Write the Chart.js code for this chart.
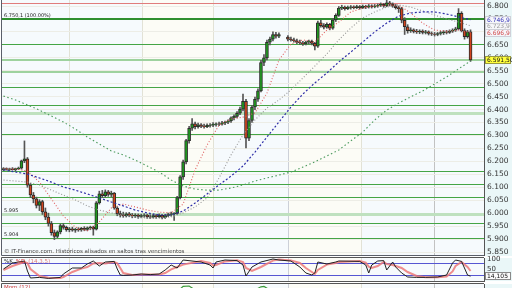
<!DOCTYPE html>
<html>
<head>
<meta charset="utf-8">
<title>Futuro - IT-Finance</title>
<script src="https://cdn.jsdelivr.net/npm/chart.js@4.4.1/dist/chart.umd.min.js"></script>
<style>
  html, body { margin: 0; padding: 0; width: 512px; height: 288px; overflow: hidden; background: #fff; }
  canvas { position: absolute; left: 0; }
</style>
</head>
<body>
<canvas id="main" width="512" height="256" style="top:0"></canvas>
<canvas id="stoch" width="512" height="28" style="top:254px"></canvas>
<canvas id="mom" width="512" height="30" style="top:282px"></canvas>
<script>
// daily candles, index 0..156 (93-94 = rollover gap)
const opens = [6168,6172,6169,6171,6168,6172,6174,6202,6210,6108,
  6070,6055,6030,6045,6005,5985,5960,5925,5910,5928,
  5952,5945,5936,5940,5934,5938,5935,5941,5937,5943,
  5946,5938,6040,6075,6068,6082,6072,6078,6020,5998,
  5994,5990,5997,5992,5989,5993,5987,5991,5993,5986,
  5985,5991,5986,5992,5984,5991,5995,5997,5999,6060,
  6140,6198,6280,6328,6345,6334,6341,6336,6334,6339,
  6340,6343,6345,6344,6349,6351,6356,6368,6374,6386,
  6402,6432,6290,6358,6410,6440,6472,6582,6600,6660,
  6672,6690,6684,null,null,6680,6672,6669,6666,6660,
  6657,6654,6661,6664,6656,6645,6735,6724,6718,6729,
  6714,6746,6764,6792,6795,6790,6795,6797,6794,6798,
  6794,6799,6796,6801,6797,6800,6803,6806,6800,6812,
  6807,6800,6794,6790,6745,6720,6705,6708,6702,6700,
  6703,6698,6700,6694,6692,6690,6694,6697,6700,6698,
  6703,6707,6712,6772,6705,6682,6700];
const highs = [6176,6175,6174,6176,6174,6178,6205,6279,6215,6115,
  6080,6062,6052,6050,6020,6000,5968,5935,5932,5958,
  5960,5950,5945,5946,5942,5944,5945,5948,5947,5950,
  5950,6045,6085,6088,6090,6088,6085,6080,6025,6008,
  6004,6002,6003,5999,5998,5997,5996,5998,5996,5994,
  5996,5995,5997,5995,5996,6000,6004,6002,6065,6145,
  6205,6285,6335,6365,6352,6348,6346,6344,6345,6346,
  6350,6349,6352,6355,6356,6360,6372,6380,6392,6410,
  6460,6440,6365,6415,6448,6480,6590,6612,6668,6680,
  6700,6698,6696,null,null,6686,6680,6676,6672,6668,
  6664,6665,6668,6668,6660,6742,6745,6732,6735,6733,
  6752,6770,6798,6803,6800,6800,6802,6801,6803,6802,
  6804,6803,6806,6805,6806,6808,6812,6810,6822,6818,
  6812,6806,6800,6795,6755,6728,6716,6712,6710,6708,
  6708,6706,6704,6700,6698,6698,6702,6705,6706,6708,
  6712,6718,6790,6778,6712,6706,6708];
const lows = [6164,6166,6164,6166,6163,6168,6170,6195,6100,6060,
  6040,6020,6010,5995,5975,5950,5915,5898,5905,5920,
  5938,5930,5928,5930,5926,5930,5930,5932,5932,5936,
  5915,5935,6035,6060,6062,6065,6064,6015,5990,5985,
  5984,5985,5986,5982,5983,5980,5982,5984,5980,5979,
  5981,5980,5982,5978,5980,5986,5988,5972,5995,6055,
  6130,6190,6270,6320,6325,6328,6330,6328,6330,6332,
  6334,6336,6338,6340,6342,6346,6350,6360,6368,6380,
  6395,6252,6280,6350,6400,6432,6468,6570,6592,6650,
  6665,6676,6678,null,null,6665,6664,6660,6655,6652,
  6648,6650,6654,6650,6630,6640,6718,6712,6714,6708,
  6710,6740,6760,6786,6784,6786,6788,6789,6790,6788,
  6790,6790,6792,6792,6793,6795,6798,6795,6797,6800,
  6795,6788,6775,6735,6690,6695,6698,6696,6694,6693,
  6692,6692,6688,6686,6684,6685,6688,6690,6692,6694,
  6698,6702,6708,6700,6672,6676,6586];
const closes = [6172,6169,6171,6168,6172,6174,6202,6210,6108,6070,
  6055,6030,6045,6005,5985,5960,5925,5910,5928,5952,
  5945,5936,5940,5934,5938,5935,5941,5937,5943,5946,
  5938,6040,6075,6068,6082,6072,6078,6020,5998,5994,
  5990,5997,5992,5989,5993,5987,5991,5993,5986,5985,
  5991,5986,5992,5984,5991,5995,5997,5999,6060,6140,
  6198,6280,6328,6345,6334,6341,6336,6334,6339,6340,
  6343,6345,6344,6349,6351,6356,6368,6374,6386,6402,
  6432,6290,6358,6410,6440,6472,6582,6600,6660,6672,
  6690,6684,6690,null,null,6672,6669,6666,6660,6657,
  6654,6661,6664,6656,6645,6735,6724,6718,6729,6714,
  6746,6764,6792,6795,6790,6795,6797,6794,6798,6794,
  6799,6796,6801,6797,6800,6803,6806,6800,6812,6807,
  6800,6794,6790,6745,6720,6705,6708,6702,6700,6703,
  6698,6700,6694,6692,6690,6694,6697,6700,6698,6703,
  6707,6712,6772,6705,6682,6700,6591.5];

// moving averages, read every 4 candles
const maIdx = [0,4,8,12,16,20,24,28,32,36,40,44,48,52,56,60,64,68,72,76,
  80,84,88,92,96,100,104,108,112,116,120,124,128,132,136,140,144,148,152,156];
const maRed = [6171,6171,6163,6120,6055,5989,5946,5931,5966,6020,6035,6024,6012,6004,6001,6035,6167,6263,6340,6364,
  6371,6387,6464,6591,6653,6669,6661,6707,6738,6777,6792,6800,6804,6804,6773,6734,6707,6703,6707,6696.9];
const maGray = [6128,6124,6120,6109,6089,6070,6051,6028,6012,6001,5993,5985,5981,5981,5985,6001,6024,6059,6136,6225,
  6302,6360,6406,6437,6476,6522,6568,6615,6669,6715,6754,6777,6796,6804,6796,6781,6765,6750,6738,6723.9];
const maBlue = [6167,6159,6151,6136,6120,6101,6089,6074,6059,6043,6028,6012,6001,5993,5993,6008,6039,6074,6109,6143,
  6182,6236,6294,6352,6410,6460,6503,6541,6584,6622,6661,6700,6734,6761,6773,6777,6777,6769,6758,6746.9];
const maGreen = [6452,6437,6418,6398,6375,6352,6325,6294,6267,6240,6225,6205,6182,6159,6128,6105,6093,6089,6089,6097,
  6109,6124,6136,6147,6159,6178,6198,6221,6244,6279,6313,6360,6398,6425,6449,6472,6499,6526,6557,6588];

// support / fibo levels
const levels = [6750.1,6652,6593,6546,6486,6419,6388,6305,6164,6111,6061,5995,5961,5904];
const levelKind = ['d','m','l','l','m','m','L','m','m','m','m','L','m','m'];
const topLevels = [6811];
const levelTextValues = [6750.1, 5995, 5904];
const levelTexts = ['6.750,1 (100.00%)', '5.995', '5.904'];

const priceTicks = [5850,5900,5950,6000,6050,6100,6150,6200,6250,6300,6350,6400,6450,6500,6550,6600,6650,6700,6750,6800];
const gridX = [22.2,46.5,70.2,95.2,119.5,143.8];

// stochastic (14,3,5)
const stochIdx = [0,3,7,8,9,12,15,19,20,23,26,28,30,32,34,37,38,39,40,43,46,49,52,54,56,58,60,66,69,70,71,74,78,80,81,
  83,86,90,92,96,99,101,103,104,105,108,111,112,119,121,122,123,125,127,128,130,131,133,135,138,141,145,148,150,151,153,155,156];
const stochK = [50,80,90,40,5,8,3,8,25,55,55,75,90,65,85,88,50,20,18,20,25,22,25,45,70,55,95,85,70,55,85,95,92,70,15,
  60,85,100,95,90,60,30,20,30,85,75,85,90,88,70,30,70,90,92,45,85,60,30,10,8,8,10,20,80,95,88,20,14.105];
const stochD = [45,65,85,80,50,15,6,5,10,35,52,60,78,80,78,85,78,55,30,20,22,23,23,30,48,60,72,90,80,68,70,88,94,85,55,
  40,60,92,97,93,80,55,35,25,45,72,80,85,90,82,62,55,65,85,75,70,65,55,35,15,9,9,12,38,65,85,60,40];
const stochLevels = [80, 20];
const stochTicks = [100, 50];

// momentum (12)
const momIdx = [0,20,40,55,58,60,62,63,66,80,84,86,87,89,100,120,140,156];
const momVal = [-100,-150,-50,0,100,240,250,200,50,100,150,230,240,150,50,80,-50,-200];

Chart.defaults.font.family = "'DejaVu Sans', sans-serif";
Chart.defaults.animation = false;

const axisTint = '#eaf7f8';
const bandTint = ['#f6fafd','#f6fafd','#fcfcf6','#f6fafd','#fcfcf6','#f6fafd','#f6fafd'];
const gridTone = ['#e2e2d6','#e2e2d6','#e2e2d6','#ccd0d8','#e2e2d6','#c2c2c2'];
const levelStyle = {
  d: {c: '#2f8f2f', w: 2},
  m: {c: '#45a545', w: 1},
  l: {c: '#9ed29e', w: 2},
  L: {c: '#bfe1bf', w: 3}
};

function fmtES(v, d) {
  const s = v.toFixed(d).split('.');
  const int = s[0].replace(/\B(?=(\d{3})+(?!\d))/g, '.');
  return s.length > 1 ? int + ',' + s[1] : int;
}

function noPad(s) {
  s.paddingTop = 0;
  s.paddingBottom = 0;
}

function xScale() {
  return {
    type: 'linear', min: -0.5, max: 160.5, offset: false,
    afterBuildTicks: a => { a.ticks = gridX.map(v => ({value: v})); },
    afterFit: s => { s.height = 0; s.paddingLeft = 0; s.paddingRight = 0; },
    ticks: {display: false},
    grid: {offset: false, drawTicks: false, color: c => gridTone[c.index] || '#ddd'},
    border: {display: false}
  };
}

function paintBands(chart) {
  const {ctx, chartArea: a, width} = chart;
  const xs = chart.scales.x;
  const edges = [a.left].concat(gridX.map(v => xs.getPixelForValue(v)), [a.right]);
  for (let k = 0; k < edges.length - 1; k++) {
    ctx.fillStyle = bandTint[k];
    ctx.fillRect(edges[k], a.top, edges[k + 1] - edges[k], a.bottom - a.top);
  }
  ctx.fillStyle = axisTint;
  ctx.fillRect(a.right, a.top, width - a.right, a.bottom - a.top);
}

function hLine(ctx, a, y, color, w) {
  const yy = w % 2 ? Math.round(y) + 0.5 : Math.round(y);
  ctx.strokeStyle = color;
  ctx.lineWidth = w;
  ctx.beginPath();
  ctx.moveTo(a.left, yy);
  ctx.lineTo(a.right, yy);
  ctx.stroke();
}

function tag(ctx, a, width, y, text, fg, bg, line) {
  const h = 8;
  ctx.fillStyle = bg;
  ctx.fillRect(a.right + 1, Math.round(y - h / 2), width - a.right - 2, h);
  ctx.strokeStyle = line;
  ctx.lineWidth = 1;
  ctx.strokeRect(a.right + 1.5, Math.round(y - h / 2) + 0.5, width - a.right - 3, h - 1);
  ctx.fillStyle = fg;
  ctx.font = "6px 'DejaVu Sans'";
  ctx.textBaseline = 'middle';
  ctx.textAlign = 'left';
  ctx.fillText(text, a.right + 3, y + 0.5);
}

const mainDeco = {
  id: 'mainDeco',
  beforeDraw(chart) {
    const {ctx, chartArea: a, width, height} = chart;
    ctx.save();
    ctx.fillStyle = '#fff';
    ctx.fillRect(0, 0, width, height);
    paintBands(chart);
    ctx.fillStyle = axisTint;
    ctx.fillRect(a.right, 0, width - a.right, height);
    ctx.restore();
  },
  beforeDatasetsDraw(chart) {
    const {ctx, chartArea: a} = chart;
    const ys = chart.scales.y;
    ctx.save();
    levels.forEach((v, k) => {
      const st = levelStyle[levelKind[k]];
      hLine(ctx, a, ys.getPixelForValue(v), st.c, st.w);
    });
    topLevels.forEach(v => hLine(ctx, a, ys.getPixelForValue(v), '#e07c7c', 1));
    ctx.fillStyle = '#222';
    ctx.font = "5px 'DejaVu Sans'";
    ctx.textBaseline = 'alphabetic';
    levelTextValues.forEach((v, k) => {
      ctx.fillText(levelTexts[k], a.left + 2, ys.getPixelForValue(v) - 2);
    });
    ctx.restore();
  },
  afterDraw(chart) {
    const {ctx, chartArea: a, width} = chart;
    const ys = chart.scales.y;
    ctx.save();
    ctx.strokeStyle = '#5a5f6a';
    ctx.lineWidth = 1;
    ctx.beginPath();
    ctx.moveTo(a.left - 0.5, a.top);
    ctx.lineTo(a.left - 0.5, a.bottom - 0.5);
    ctx.lineTo(a.right, a.bottom - 0.5);
    ctx.stroke();
    ctx.fillStyle = '#444';
    ctx.font = "5.5px 'DejaVu Sans'";
    ctx.textBaseline = 'alphabetic';
    ctx.fillText('© IT-Finance.com. Históricos alisados en saltos tras vencimientos', a.left + 2, a.bottom - 3);
    const gv = maGray[maGray.length - 1], bv = maBlue[maBlue.length - 1], rv = maRed[maRed.length - 1];
    const cv = closes[closes.length - 1];
    tag(ctx, a, width, ys.getPixelForValue(gv), fmtES(gv, 1), '#9a9a9a', '#f6f6fa', '#cfd0d8');
    tag(ctx, a, width, ys.getPixelForValue(bv), fmtES(bv, 1), '#3434b8', '#f6f6fa', '#cfd0d8');
    tag(ctx, a, width, ys.getPixelForValue(rv), fmtES(rv, 1), '#d04a4a', '#f6f6fa', '#cfd0d8');
    tag(ctx, a, width, ys.getPixelForValue(cv), fmtES(cv, 2), '#111', '#ffff3c', '#9a9a40');
    ctx.restore();
  }
};

const candleIdx = closes.map((c, i) => i).filter(i => closes[i] !== null);
const maLine = (vals, color, dash, w) => ({
  type: 'line',
  data: maIdx.map((x, k) => ({x: x, y: vals[k]})),
  borderColor: color, borderDash: dash, borderWidth: w,
  pointRadius: 0, fill: false, order: 0
});

new Chart(document.getElementById('main'), {
  type: 'line',
  data: {
    datasets: [
      maLine(maGreen, '#4a9a5c', [1.5, 2.5], 1.1),
      maLine(maBlue, '#2e2ea8', [2, 2], 1.2),
      maLine(maGray, '#959595', [1, 2], 1.1),
      maLine(maRed, '#e06060', [1, 2], 1.1),
      {
        type: 'bar',
        data: candleIdx.map(i => ({x: i, y: [opens[i], closes[i]]})),
        backgroundColor: c => (c.raw && c.raw.y[1] >= c.raw.y[0]) ? '#1f9a1f' : '#d2441e',
        borderColor: '#2b2b2b', borderWidth: 1, borderSkipped: false,
        barThickness: 3, grouped: false, order: 1
      },
      {
        type: 'bar',
        data: candleIdx.map(i => ({x: i, y: [lows[i], highs[i]]})),
        backgroundColor: '#555', borderWidth: 0,
        barThickness: 1, grouped: false, order: 2
      }
    ]
  },
  options: {
    responsive: false, animation: false, events: [],
    layout: {padding: {left: 2, right: 0, top: 0, bottom: 0}},
    plugins: {legend: {display: false}, tooltip: {enabled: false}},
    elements: {point: {radius: 0}, line: {tension: 0}},
    scales: {
      x: xScale(),
      y: {
        position: 'right', min: 5834.6, max: 6823.2,
        afterBuildTicks: a => { a.ticks = priceTicks.map(v => ({value: v})); },
        afterFit: s => { s.width = 28; noPad(s); },
        ticks: {autoSkip: false, padding: 3, color: '#333', font: {size: 7.5}, callback: v => fmtES(v, 0)},
        grid: {color: '#ededE6', drawTicks: false},
        border: {color: '#555'}
      }
    }
  },
  plugins: [mainDeco]
});

const stochDeco = {
  id: 'stochDeco',
  beforeDraw(chart) {
    const {ctx} = chart;
    ctx.save();
    paintBands(chart);
    ctx.restore();
  },
  beforeDatasetsDraw(chart) {
    const {ctx, chartArea: a} = chart;
    ctx.save();
    stochLevels.forEach(v => hLine(ctx, a, chart.scales.y.getPixelForValue(v), '#5656d2', 1));
    ctx.restore();
  },
  afterDraw(chart) {
    const {ctx, chartArea: a, width} = chart;
    ctx.save();
    ctx.strokeStyle = '#555';
    ctx.lineWidth = 1;
    ctx.beginPath();
    ctx.moveTo(a.left - 0.5, a.top - 0.5);
    ctx.lineTo(a.right, a.top - 0.5);
    ctx.moveTo(a.left - 0.5, a.top - 0.5);
    ctx.lineTo(a.left - 0.5, a.bottom + 0.5);
    ctx.lineTo(a.right, a.bottom + 0.5);
    ctx.stroke();
    ctx.font = "5.5px 'DejaVu Sans'";
    ctx.textBaseline = 'middle';
    let x = a.left + 2;
    const y = a.top + 3.5;
    [['%K', '#222'], ['%D', '#d03030'], ['(14,3,5)', '#e07a7a']].forEach(p => {
      ctx.fillStyle = p[1];
      ctx.fillText(p[0], x, y);
      x += ctx.measureText(p[0]).width + 3;
    });
    const kv = stochK[stochK.length - 1];
    tag(ctx, a, width, chart.scales.y.getPixelForValue(kv), fmtES(kv, 3), '#111', '#fbfbfb', '#8a8a8a');
    ctx.restore();
  }
};

new Chart(document.getElementById('stoch'), {
  type: 'line',
  data: {
    datasets: [
      {data: stochIdx.map((x, k) => ({x: x, y: stochK[k]})), borderColor: '#222', borderWidth: 1, order: 0},
      {data: stochIdx.map((x, k) => ({x: x, y: stochD[k]})), borderColor: 'rgba(236,120,120,0.85)', borderWidth: 2, order: 1}
    ]
  },
  options: {
    responsive: false, animation: false, events: [],
    layout: {padding: {left: 2, right: 0, top: 4, bottom: 1}},
    plugins: {legend: {display: false}, tooltip: {enabled: false}},
    elements: {point: {radius: 0}, line: {tension: 0}},
    scales: {
      x: xScale(),
      y: {
        position: 'right', min: -10, max: 105,
        afterBuildTicks: a => { a.ticks = stochTicks.map(v => ({value: v})); },
        afterFit: s => { s.width = 28; noPad(s); },
        ticks: {autoSkip: false, padding: 3, color: '#333', font: {size: 7}},
        grid: {display: false, drawTicks: false},
        border: {color: '#555'}
      }
    }
  },
  plugins: [stochDeco]
});

const momDeco = {
  id: 'momDeco',
  beforeDraw(chart) {
    const {ctx} = chart;
    ctx.save();
    paintBands(chart);
    ctx.restore();
  },
  afterDraw(chart) {
    const {ctx, chartArea: a} = chart;
    ctx.save();
    ctx.strokeStyle = '#555';
    ctx.lineWidth = 1;
    ctx.beginPath();
    ctx.moveTo(a.left - 0.5, a.top - 0.5);
    ctx.lineTo(a.right, a.top - 0.5);
    ctx.moveTo(a.left - 0.5, a.top - 0.5);
    ctx.lineTo(a.left - 0.5, a.bottom);
    ctx.stroke();
    ctx.fillStyle = '#d04040';
    ctx.font = "5.5px 'DejaVu Sans'";
    ctx.textBaseline = 'middle';
    ctx.fillText('Mom (12)', a.left + 2, a.top + 3.5);
    ctx.restore();
  }
};

new Chart(document.getElementById('mom'), {
  type: 'line',
  data: {
    datasets: [
      {data: momIdx.map((x, k) => ({x: x, y: momVal[k]})), borderColor: '#3a9a3a', borderWidth: 1.2}
    ]
  },
  options: {
    responsive: false, animation: false, events: [],
    layout: {padding: {left: 2, right: 0, top: 2, bottom: 0}},
    plugins: {legend: {display: false}, tooltip: {enabled: false}},
    elements: {point: {radius: 0}, line: {tension: 0}},
    scales: {
      x: xScale(),
      y: {
        position: 'right', min: -400, max: 300,
        afterFit: s => { s.width = 28; noPad(s); },
        ticks: {display: false},
        grid: {display: false, drawTicks: false},
        border: {color: '#555'}
      }
    }
  },
  plugins: [momDeco]
});
</script>
</body>
</html>
